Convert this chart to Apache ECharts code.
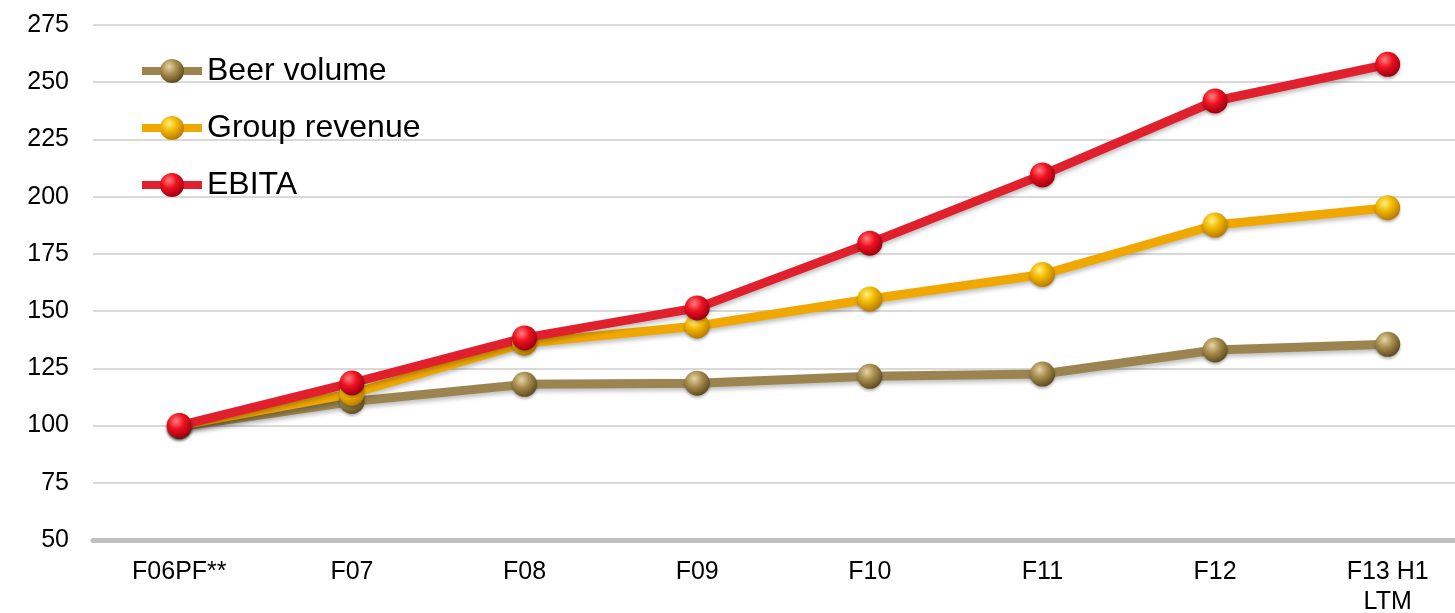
<!DOCTYPE html>
<html>
<head>
<meta charset="utf-8">
<script src="https://cdn.jsdelivr.net/npm/echarts@6/dist/echarts.min.js"></script>
<style>
  html, body { margin: 0; padding: 0; background: #fff; }
  #chart { width: 1455px; height: 613px; }
</style>
</head>
<body>
<div id="chart"></div>
<script>
// index values, F06PF** = 100
const categories = ['F06PF**', 'F07', 'F08', 'F09', 'F10', 'F11', 'F12', 'F13 H1\nLTM'];
const beerVolume = [99.5, 110.5, 118, 118.5, 121.5, 122.5, 133, 135.5];
const groupRevenue = [100, 114, 136, 143.5, 155.3, 166, 187.6, 195.2];
const ebita = [100, 118.6, 138.3, 151.4, 179.7, 209.5, 241.8, 257.8];

const FONT = '"Liberation Sans", Arial, sans-serif';

// shiny ball look for the markers
function ball(light, mid, dark) {
    return new echarts.graphic.RadialGradient(0.38, 0.32, 0.7, [
        { offset: 0, color: light },
        { offset: 0.45, color: mid },
        { offset: 1, color: dark }
    ]);
}

function lineSeries(name, data, lineColor, markerColor) {
    return {
        name: name,
        type: 'line',
        data: data,
        symbol: 'circle',
        symbolSize: 25,
        lineStyle: {
            width: 9,
            color: lineColor,
            shadowColor: 'rgba(0,0,0,0.25)',
            shadowBlur: 4,
            shadowOffsetY: 3
        },
        itemStyle: {
            color: markerColor,
            borderWidth: 0,
            shadowColor: 'rgba(0,0,0,0.3)',
            shadowBlur: 3,
            shadowOffsetY: 2
        },
        emphasis: { disabled: true },
        animation: false
    };
}

const chart = echarts.init(document.getElementById('chart'));

chart.setOption({
    backgroundColor: '#ffffff',
    grid: {
        left: 93,
        top: 25,
        width: 1381,
        bottom: 73,
        outerBoundsMode: 'none',
        containLabel: false
    },
    legend: {
        orient: 'vertical',
        left: 133,
        top: 50,
        itemWidth: 60,
        itemHeight: 30,
        itemGap: 25,
        lineStyle: { width: 8 },
        textStyle: { fontFamily: FONT, fontSize: 32, lineHeight: 30, color: '#000' },
        data: ['Beer volume', 'Group revenue', 'EBITA']
    },
    xAxis: {
        type: 'category',
        data: categories,
        boundaryGap: true,
        axisLine: { lineStyle: { color: '#bfbfbf', width: 5 } },
        axisTick: { show: false },
        axisLabel: {
            fontFamily: FONT,
            fontSize: 25,
            color: '#000',
            margin: 17,
            lineHeight: 30
        }
    },
    yAxis: {
        type: 'value',
        min: 50,
        max: 275,
        interval: 25,
        axisLine: { show: false },
        axisTick: { show: false },
        axisLabel: {
            fontFamily: FONT,
            fontSize: 25,
            color: '#000',
            margin: 24
        },
        splitLine: { lineStyle: { color: '#d9d9d9', width: 2 } }
    },
    series: [
        lineSeries('Beer volume', beerVolume, '#9b844f', ball('#e6d6a6', '#a88d4e', '#5e4a1e')),
        lineSeries('Group revenue', groupRevenue, '#f0a800', ball('#fff080', '#f2b800', '#b87800')),
        lineSeries('EBITA', ebita, '#e0202c', ball('#ff8080', '#f01020', '#9a0010'))
    ]
});
</script>
</body>
</html>
